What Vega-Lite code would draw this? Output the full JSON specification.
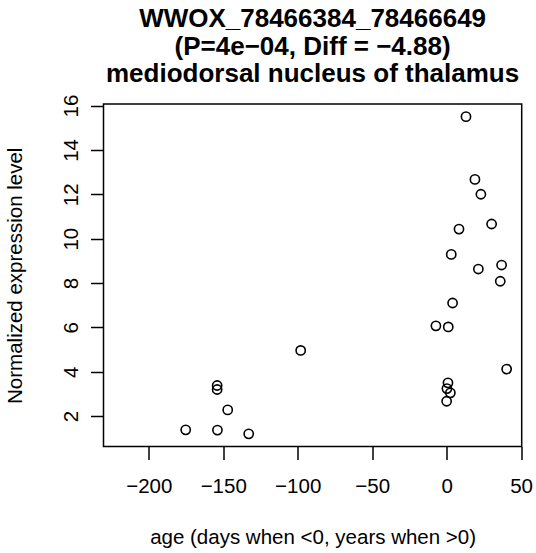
{
  "$schema": "https://vega.github.io/schema/vega-lite/v6.json",
  "width": 418.2,
  "height": 342.5,
  "autosize": "none",
  "padding": {"left": 103.5, "top": 104, "right": 14.3, "bottom": 106.5},
  "background": "white",
  "config": {
    "font": "Liberation Sans",
    "view": {"stroke": "black", "strokeWidth": 1.5}
  },
  "title": {
    "text": ["WWOX_78466384_78466649", "(P=4e−04, Diff = −4.88)", "mediodorsal nucleus of thalamus"],
    "font": "Liberation Sans",
    "fontSize": 26,
    "fontWeight": "bold",
    "color": "black",
    "lineHeight": 27.5,
    "anchor": "middle",
    "offset": 7
  },
  "data": {
    "values": [
      {"age": 13.0, "expr": 15.5},
      {"age": 19.0, "expr": 12.67},
      {"age": 23.0, "expr": 12.0},
      {"age": 30.2, "expr": 10.66},
      {"age": 8.3, "expr": 10.43},
      {"age": 3.1, "expr": 9.29},
      {"age": 21.3, "expr": 8.63},
      {"age": 36.9, "expr": 8.81},
      {"age": 36.0, "expr": 8.08},
      {"age": 4.0, "expr": 7.1},
      {"age": -7.2, "expr": 6.07},
      {"age": 1.1, "expr": 6.02},
      {"age": 40.3, "expr": 4.12},
      {"age": 0.9, "expr": 3.5},
      {"age": 0.2, "expr": 3.24},
      {"age": 2.5, "expr": 3.05},
      {"age": 0.0, "expr": 2.67},
      {"age": -98.0, "expr": 4.96},
      {"age": -154.1, "expr": 3.38},
      {"age": -154.1, "expr": 3.2},
      {"age": -147.0, "expr": 2.28},
      {"age": -175.2, "expr": 1.38},
      {"age": -153.9, "expr": 1.37},
      {"age": -132.9, "expr": 1.2}
    ]
  },
  "mark": {"type": "point", "shape": "circle", "filled": false, "stroke": "black", "strokeWidth": 1.6, "size": 85, "opacity": 1},
  "encoding": {
    "x": {
      "field": "age",
      "type": "quantitative",
      "scale": {"domain": [-230.4, 50.4], "nice": false, "zero": false},
      "axis": {
        "values": [-200, -150, -100, -50, 0, 50],
        "title": "age (days when <0, years when >0)",
        "grid": false,
        "domain": false,
        "ticks": true,
        "tickColor": "black",
        "tickWidth": 1.5,
        "tickSize": 13,
        "labelFont": "Liberation Sans",
        "labelFontSize": 20.5,
        "labelColor": "black",
        "labelPadding": 17,
        "labelBaseline": "top",
        "labelFlush": false,
        "labelOverlap": false,
        "titleFont": "Liberation Sans",
        "titleFontSize": 20.5,
        "titleFontWeight": "normal",
        "titleColor": "black",
        "titleBaseline": "alphabetic",
        "titleY": 96.5
      }
    },
    "y": {
      "field": "expr",
      "type": "quantitative",
      "scale": {"domain": [0.63, 16.07], "nice": false, "zero": false},
      "axis": {
        "values": [2, 4, 6, 8, 10, 12, 14, 16],
        "title": "Normalized expression level",
        "grid": false,
        "domain": false,
        "ticks": true,
        "tickColor": "black",
        "tickWidth": 1.5,
        "tickSize": 13,
        "labelFont": "Liberation Sans",
        "labelFontSize": 20.5,
        "labelColor": "black",
        "labelAngle": -90,
        "labelAlign": "center",
        "labelBaseline": "alphabetic",
        "labelPadding": 13.5,
        "labelFlush": false,
        "labelOverlap": false,
        "titleFont": "Liberation Sans",
        "titleFontSize": 20.5,
        "titleFontWeight": "normal",
        "titleColor": "black",
        "titleAngle": -90,
        "titleBaseline": "middle",
        "titleAlign": "center",
        "titleX": -88.5,
        "titleY": 171.25
      }
    }
  }
}
